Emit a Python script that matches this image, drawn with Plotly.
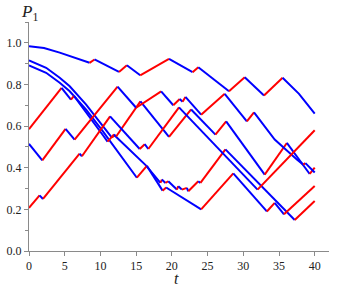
import plotly.graph_objects as go

# time / P1 vertices of each trajectory
t1 = [0, 2.1, 4.3, 6.6, 8.48, 9.17, 12.6, 13.7, 15.57, 19.6, 22.9, 23.7, 28.0, 30.2, 32.9, 35.5, 37.8, 40]
p1 = [0.984, 0.975, 0.953, 0.928, 0.904, 0.92, 0.86, 0.892, 0.844, 0.923, 0.859, 0.883, 0.767, 0.835, 0.747, 0.832, 0.755, 0.66]

t2 = [0, 2.4, 4.3, 5.7, 8.0, 10.35, 11.6, 12.0, 12.3, 16.4, 18.4, 18.6, 19.1, 19.5, 20.7, 20.9, 21.4, 22.1, 22.3, 23.7, 24.0, 27.5, 37.2, 40]
p2 = [0.916, 0.88, 0.832, 0.791, 0.703, 0.599, 0.545, 0.555, 0.545, 0.41, 0.327, 0.343, 0.327, 0.335, 0.295, 0.311, 0.295, 0.303, 0.287, 0.335, 0.327, 0.488, 0.149, 0.24]

t3 = [0, 2.4, 4.3, 5.7, 8.0, 10.35, 15.1, 16.5, 18.7, 19.2, 24.1, 28.6, 33.3, 34.4, 35.7, 40]
p3 = [0.891, 0.856, 0.808, 0.767, 0.679, 0.575, 0.352, 0.409, 0.29, 0.305, 0.2, 0.373, 0.19, 0.231, 0.176, 0.312]

t4 = [0, 4.56, 5.87, 6.3, 8.0, 10.35, 11.0, 11.9, 12.2, 15.6, 19.6, 22.7, 26.1, 27.6, 33.0, 36.1, 39.3, 40]
p4 = [0.585, 0.784, 0.727, 0.745, 0.668, 0.556, 0.525, 0.56, 0.55, 0.719, 0.548, 0.68, 0.559, 0.623, 0.367, 0.519, 0.37, 0.40]

t5 = [0, 1.86, 5.12, 6.38, 12.4, 15.0, 18.5, 20.2, 21.1, 21.5, 21.9, 24.1, 27.4, 30.5, 31.5, 34.4, 37.5, 38.4, 38.7, 40]
p5 = [0.515, 0.435, 0.587, 0.535, 0.79, 0.688, 0.767, 0.70, 0.73, 0.717, 0.74, 0.655, 0.755, 0.623, 0.666, 0.535, 0.44, 0.415, 0.422, 0.377]

t6 = [0, 1.48, 1.96, 7.08, 7.41, 11.35, 15.5, 16.2, 16.7, 21.0, 32.0, 40]
p6 = [0.207, 0.267, 0.25, 0.468, 0.455, 0.647, 0.49, 0.513, 0.49, 0.69, 0.295, 0.58]

x_ticks = [0, 5, 10, 15, 20, 25, 30, 35, 40]
x_labels = ["0", "5", "10", "15", "20", "25", "30", "35", "40"]
y_ticks = [0.0, 0.2, 0.4, 0.6, 0.8, 1.0]
y_labels = ["0.0", "0.2", "0.4", "0.6", "0.8", "1.0"]

RED = "#ff0000"
BLUE = "#0000ff"

fig = go.Figure()

for ts, ps in [(t1, p1), (t2, p2), (t3, p3), (t4, p4), (t5, p5), (t6, p6)]:
    # split into monotone runs: rising -> red, falling -> blue
    runs = []
    cur = [0]
    cur_up = ps[1] > ps[0]
    for i in range(1, len(ts)):
        up = ps[i] > ps[i - 1]
        if up != cur_up:
            runs.append((cur_up, cur))
            cur = [i - 1]
            cur_up = up
        cur.append(i)
    runs.append((cur_up, cur))
    for up, idx in runs:
        fig.add_trace(go.Scatter(
            x=[ts[i] for i in idx], y=[ps[i] for i in idx],
            mode="lines", line=dict(color=RED if up else BLUE, width=2),
            showlegend=False, hoverinfo="skip"))

axis_common = dict(
    showgrid=False, zeroline=False, showline=True, linecolor="#8a8a8a", linewidth=1,
    ticks="outside", ticklen=4, tickcolor="#8a8a8a", tickwidth=1, automargin=False,
    tickfont=dict(family="Liberation Serif", size=12, color="#222"),
)

fig.update_xaxes(range=[0, 42], tickvals=x_ticks, ticktext=x_labels, **axis_common)
fig.update_yaxes(range=[0, 1.1], tickvals=y_ticks, ticktext=y_labels,
                 minor=dict(ticks="outside", ticklen=3, dtick=0.1, tick0=0, tickcolor="#8a8a8a"),
                 **axis_common)

fig.add_annotation(text="<i>P</i><sub>1</sub>", xref="paper", yref="paper", x=0.0, y=1.04,
                   xanchor="center", yanchor="middle", showarrow=False,
                   font=dict(family="Liberation Serif", size=17, color="#222"))
fig.add_annotation(text="<i>t</i>", xref="paper", yref="paper", x=0.49, y=-0.073,
                   xanchor="center", yanchor="top", showarrow=False,
                   font=dict(family="Liberation Serif", size=16, color="#222"))

fig.update_layout(
    width=338, height=286,
    margin=dict(l=29, r=9, t=22, b=35),
    plot_bgcolor="white", paper_bgcolor="white",
)

fig.write_html("out.html", config={"displayModeBar": False},
               post_script="document.body.style.margin='0px';")
